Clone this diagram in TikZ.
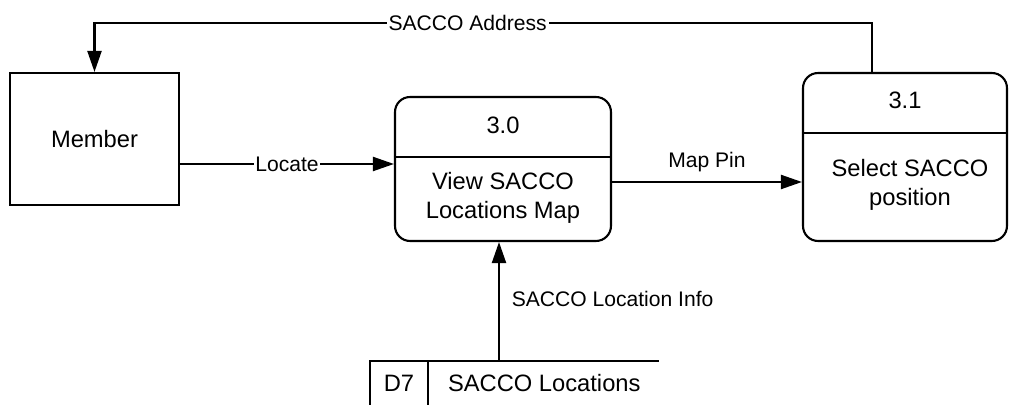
\documentclass[tikz,border=0pt]{standalone}
\usepackage{fontspec}
\setmainfont{Liberation Sans}
\usetikzlibrary{arrows.meta}
\begin{document}
\begin{tikzpicture}[x=0.02cm, y=-0.02cm, line width=1.2pt,
    entity/.style={draw, minimum width=3.38cm, minimum height=2.64cm, inner sep=0pt},
    process/.style={draw, rounded corners=0.3cm, inner sep=0pt},
    nodetext/.style={font=\fontsize{13.5}{16.5}\selectfont, align=center, inner sep=0pt},
    flowlabel/.style={font=\fontsize{12}{14}\selectfont, inner sep=1pt},
    flow/.style={-{Triangle[length=0.42cm, width=0.28cm]}}]
    \useasboundingbox (0,0) rectangle (1009,405);

    % external entity
    \node[entity] (member) at (94.5,139) {};
    \node[nodetext] (membertext) at (member) {Member};

    % processes
    \node[process, minimum width=4.32cm, minimum height=2.88cm] (p30) at (503,169) {};
    \draw (p30.west |- 0,157) -- (p30.east |- 0,157);
    \node[nodetext] (p30id) at (503,125) {3.0};
    \node[nodetext] (p30name) at (503,198) {View SACCO\\Locations Map};

    \node[process, minimum width=4.08cm, minimum height=3.36cm] (p31) at (905,157) {};
    \draw (p31.west |- 0,133) -- (p31.east |- 0,133);
    \node[nodetext] (p31id) at (905,100) {3.1};
    \node[nodetext] (p31name) at (910,185) {Select SACCO\\position};

    % data store
    \coordinate (d7top) at (499,361);
    \draw (370,405) -- (370,361) -- (659,361);
    \draw (428,361) -- (428,405);
    \node[nodetext] (d7) at (399,383) {D7};
    \node[nodetext, anchor=west] (d7name) at (447,383) {SACCO Locations};

    % flows
    \draw[flow] (member.east |- 0,164) -- node[flowlabel, fill=white] {Locate} (p30.west |- 0,164);
    \draw[flow] (p30.east |- 0,182) -- node[flowlabel, above=4pt] {Map Pin} (p31.west |- 0,182);
    \draw[flow] (p31.north -| 872,0) -- (872,23) -| node[flowlabel, fill=white, pos=0.26] {SACCO Address} (member.north);
    \draw[flow] (d7top) -- (p30.south -| d7top);
    \node[flowlabel, anchor=west] (infolabel) at (509,299) {SACCO Location Info};
\end{tikzpicture}
\end{document}
